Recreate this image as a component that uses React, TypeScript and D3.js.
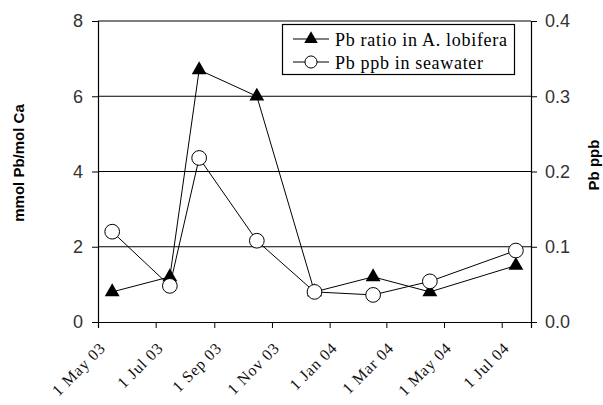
import * as d3 from "d3";
import { useEffect, useRef } from "react";

const sampleDates = ["2003-05-16", "2003-07-16", "2003-08-16", "2003-10-16", "2003-12-16", "2004-02-16", "2004-04-16", "2004-07-16"];
const pbRatio = [0.8, 1.2, 6.7, 6.0, 0.8, 1.2, 0.8, 1.5];
const pbSeawater = [0.12, 0.048, 0.218, 0.108, 0.04, 0.036, 0.054, 0.095];
const xTicks = ["2003-05-01", "2003-07-01", "2003-09-01", "2003-11-01", "2004-01-01", "2004-03-01", "2004-05-01", "2004-07-01"];
const leftTicks = [0, 2, 4, 6, 8];
const rightTicks = [0, 0.1, 0.2, 0.3, 0.4];
const seriesNames = ["Pb ratio in A. lobifera", "Pb ppb in seawater"];

export default function App() {
  const ref = useRef<SVGSVGElement>(null);

  useEffect(() => {
    const svg = d3.select(ref.current);
    svg.selectAll("*").remove();

    const left = 98, right = 531, top = 21, bottom = 322;
    const parse = d3.utcParse("%Y-%m-%d");
    const x = d3.scaleUtc()
      .domain([parse("2003-05-01")!, parse("2004-08-01")!])
      .range([left, right]);
    const yL = d3.scaleLinear().domain([0, 8]).range([bottom, top]);
    const yR = d3.scaleLinear().domain([0, 0.4]).range([bottom, top]);
    const sans = "'Liberation Sans', Arial, sans-serif";
    const serif = "'Liberation Serif', 'Times New Roman', serif";

    svg.append("rect").attr("width", 603).attr("height", 405).attr("fill", "#fff");

    // gridlines
    svg.append("g")
      .selectAll("line")
      .data(leftTicks.filter((d) => d > 0))
      .enter()
      .append("line")
      .attr("x1", left)
      .attr("x2", right)
      .attr("y1", (d) => yL(d))
      .attr("y2", (d) => yL(d))
      .attr("stroke", "#000")
      .attr("stroke-width", 1.2);

    // left axis
    const gl = svg.append("g").attr("transform", `translate(${left},0)`)
      .call(d3.axisLeft(yL).tickValues(leftTicks).tickSize(6).tickPadding(9).tickFormat(d3.format("d")));
    gl.select(".domain").attr("stroke", "#000").attr("stroke-width", 1.2);
    gl.selectAll("text").attr("font-family", sans).attr("font-size", 18).attr("fill", "#333");

    // right axis
    const gr = svg.append("g").attr("transform", `translate(${right},0)`)
      .call(d3.axisRight(yR).tickValues(rightTicks).tickSize(6).tickPadding(8).tickFormat(d3.format(".1f")));
    gr.select(".domain").attr("stroke", "#000").attr("stroke-width", 1.2);
    gr.selectAll("text").attr("font-family", sans).attr("font-size", 18).attr("fill", "#333");

    // bottom axis
    const gx = svg.append("g").attr("transform", `translate(0,${bottom})`)
      .call(d3.axisBottom(x).tickValues(xTicks.map((d) => parse(d)!)).tickSize(6).tickFormat(d3.utcFormat("1 %b %y") as any));
    gx.select(".domain").attr("stroke", "#000").attr("stroke-width", 1.2);
    gx.selectAll(".tick text")
      .attr("font-family", serif)
      .attr("font-size", 16)
      .attr("letter-spacing", 0.8)
      .attr("fill", "#111")
      .attr("text-anchor", "end")
      .attr("dy", null)
      .attr("y", 0)
      .attr("transform", "translate(8,27) rotate(-45)");

    // axis titles
    svg.append("text")
      .attr("transform", "translate(24,163) rotate(-90)")
      .attr("text-anchor", "middle")
      .attr("font-family", sans)
      .attr("font-weight", "bold")
      .attr("font-size", 15)
      .text("mmol Pb/mol Ca");
    svg.append("text")
      .attr("transform", "translate(599,165) rotate(-90)")
      .attr("text-anchor", "middle")
      .attr("font-family", sans)
      .attr("font-weight", "bold")
      .attr("font-size", 15)
      .text("Pb ppb");

    const tri = d3.symbol().type(d3.symbolTriangle).size(95);
    const circ = d3.symbol().type(d3.symbolCircle).size(170);

    // triangles series
    const ratioPts = sampleDates.map((d, i) => [x(parse(d)!), yL(pbRatio[i])] as [number, number]);
    svg.append("path")
      .attr("d", d3.line()(ratioPts))
      .attr("fill", "none")
      .attr("stroke", "#000")
      .attr("stroke-width", 1);
    svg.append("g")
      .selectAll("path")
      .data(ratioPts)
      .enter()
      .append("path")
      .attr("d", tri)
      .attr("transform", (d) => `translate(${d[0]},${d[1]})`)
      .attr("fill", "#000");

    // circles series
    const seaPts = sampleDates.map((d, i) => [x(parse(d)!), yR(pbSeawater[i])] as [number, number]);
    svg.append("path")
      .attr("d", d3.line()(seaPts))
      .attr("fill", "none")
      .attr("stroke", "#000")
      .attr("stroke-width", 1);
    svg.append("g")
      .selectAll("path")
      .data(seaPts)
      .enter()
      .append("path")
      .attr("d", circ)
      .attr("transform", (d) => `translate(${d[0]},${d[1]})`)
      .attr("fill", "#fff")
      .attr("stroke", "#000")
      .attr("stroke-width", 1);

    // legend
    const lg = svg.append("g");
    lg.append("rect")
      .attr("x", 282.5).attr("y", 24.5).attr("width", 232).attr("height", 50)
      .attr("fill", "#fff").attr("stroke", "#000").attr("stroke-width", 1.2);
    const widths = [172, 148];
    seriesNames.forEach((name, i) => {
      const cy = 39 + i * 23;
      lg.append("line").attr("x1", 293).attr("x2", 329).attr("y1", cy).attr("y2", cy).attr("stroke", "#000");
      lg.append("path")
        .attr("d", i === 0 ? d3.symbol().type(d3.symbolTriangle).size(80)() : d3.symbol().type(d3.symbolCircle).size(115)())
        .attr("transform", `translate(311,${cy})`)
        .attr("fill", i === 0 ? "#000" : "#fff")
        .attr("stroke", i === 0 ? "none" : "#000");
      lg.append("text")
        .attr("x", 335).attr("y", cy + 7)
        .attr("font-family", serif).attr("font-size", 18)
        .attr("textLength", widths[i]).attr("lengthAdjust", "spacing")
        .text(name);
    });
  }, []);

  return (
    <div style={{ position: "absolute", left: 0, top: 0 }}>
      <svg ref={ref} width={603} height={405} style={{ display: "block" }} />
    </div>
  );
}
